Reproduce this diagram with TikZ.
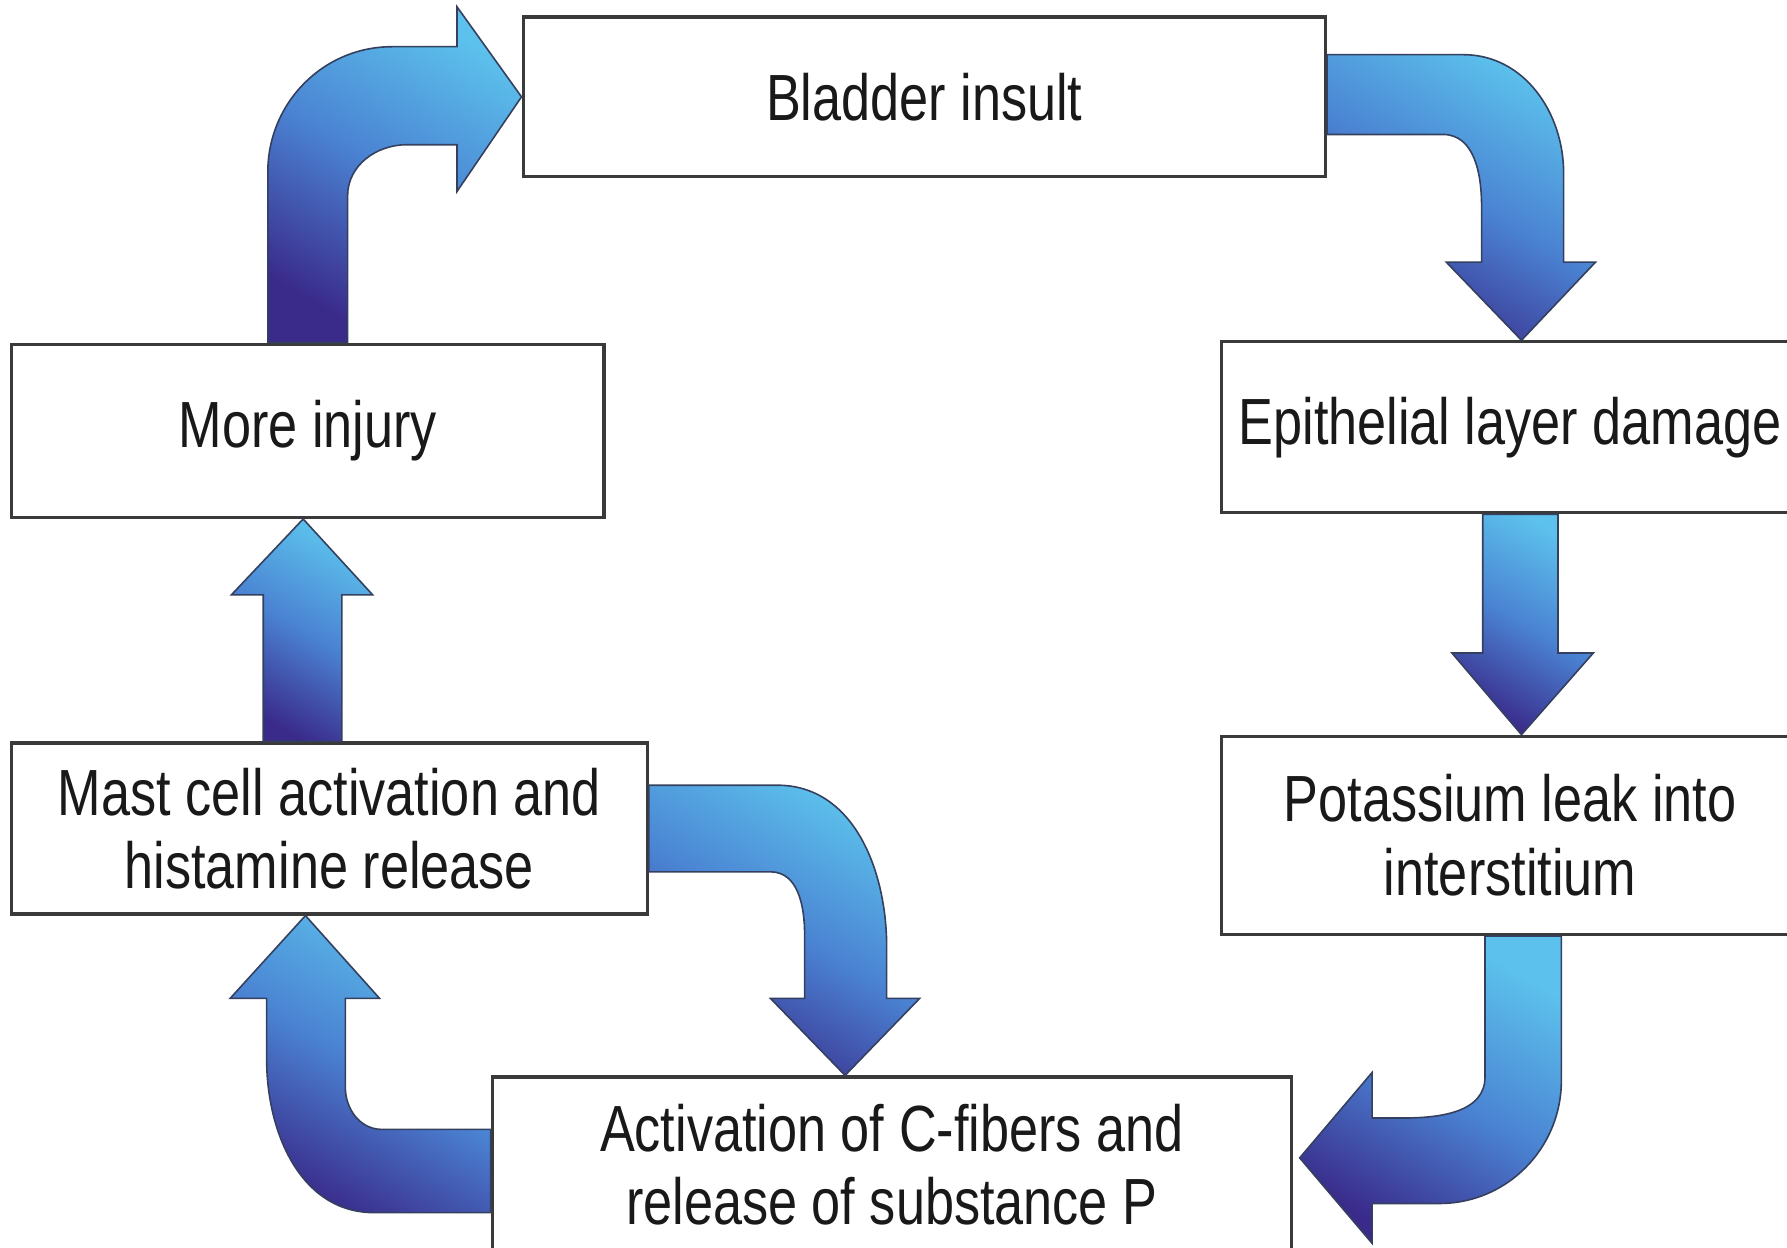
\documentclass[tikz,border=0pt]{standalone}
\usepackage{fontspec}
\setmainfont{Liberation Sans}[FakeStretch=0.80]
\usepackage{tikz}
\usetikzlibrary{positioning, calc}
\definecolor{arrowlight}{HTML}{5CC1EC}
\definecolor{arrowmid}{HTML}{4A82D2}
\definecolor{arrowdark}{HTML}{3A2A8A}
\definecolor{arrowedge}{HTML}{34405E}
\definecolor{boxline}{HTML}{3A3A3A}

\tikzset{
  stage/.style={draw=boxline, line width=0.8pt, fill=white, align=center, inner sep=0pt,
    text=black!90, font=\fontsize{16.3}{18.4}\selectfont},
  flowarrow/.style={draw=arrowedge, line width=0.4pt, top color=arrowlight,
    bottom color=arrowdark, middle color=arrowmid, shading angle=-30},
}

\begin{document}
\begin{tikzpicture}
    \useasboundingbox (0,0) rectangle (15.68,10.95);
    % Cajas del ciclo
    \node[stage, minimum width=7.04cm, minimum height=1.40cm] (bladder) at (8.11,10.10) {Bladder insult};
    \node[stage, minimum width=5.06cm, minimum height=1.50cm] (epith) at (13.25,7.20) {Epithelial layer damage};
    \node[stage, minimum width=5.06cm, minimum height=1.74cm] (potas) at (13.25,3.62) {Potassium leak into\\interstitium};
    \node[stage, minimum width=7.01cm, minimum height=1.54cm] (activ) at (7.825,0.73) {Activation of C-fibers and\\release of substance P};
    \node[stage, minimum width=5.58cm, minimum height=1.50cm] (mast) at (2.89,3.68) {Mast cell activation and\\histamine release};
    \node[stage, minimum width=5.20cm, minimum height=1.52cm] (more) at (2.70,7.17) {More injury};

    % Flechas curvas y rectas
    \path[flowarrow] ([xshift=-3.5mm]more.north) -- (2.35,9.44) to[out=90,in=180] (3.44,10.54)
        -- (4.01,10.54) -- (4.01,10.89) -- (bladder.west) -- (4.01,9.27) -- (4.01,9.68)
        -- (3.57,9.68) to[out=180,in=90] (3.05,9.23) -- ([xshift=3.5mm]more.north) -- cycle;
    \path[flowarrow] ([yshift=3.7mm]bladder.east) -- (12.84,10.47) to[out=0,in=90] (13.72,9.43)
        -- (13.72,8.65) -- (14.00,8.65) -- ([xshift=1mm]epith.north) -- (12.69,8.65) -- (13.00,8.65)
        -- (13.00,9.14) to[out=90,in=0] (12.66,9.77) -- ([yshift=-3.3mm]bladder.east) -- cycle;
    \path[flowarrow] ([xshift=-2.4mm]epith.south) -- (13.01,5.22) -- (12.74,5.22)
        -- ([xshift=1mm]potas.north) -- (13.98,5.22) -- (13.67,5.22) -- ([xshift=4.2mm]epith.south) -- cycle;
    \path[flowarrow] ([xshift=4.5mm]potas.south) -- (13.70,1.47) to[out=-90,in=0] (12.63,0.39)
        -- (12.04,0.39) -- (12.04,0.04) -- ([shift={(0.6mm,0.6mm)}]activ.east) -- (12.04,1.54) -- (12.04,1.14)
        -- (12.31,1.14) to[out=0,in=-90] (13.03,1.50) -- ([xshift=-2.2mm]potas.south) -- cycle;
    \path[flowarrow] ([yshift=-4.2mm]activ.west) -- (3.28,0.31) to[out=180,in=-90] (2.34,1.65)
        -- (2.34,2.19) -- (2.02,2.19) -- ([xshift=-2.1mm]mast.south) -- (3.33,2.19) -- (3.03,2.19)
        -- (3.03,1.41) to[out=-90,in=180] (3.35,1.04) -- ([yshift=3.1mm]activ.west) -- cycle;
    \path[flowarrow] ([yshift=3.8mm]mast.east) -- (6.82,4.06) to[out=0,in=90] (7.78,2.64)
        -- (7.78,2.19) -- (8.07,2.19) -- ([xshift=-4.1mm]activ.north) -- (6.76,2.19) -- (7.06,2.19)
        -- (7.06,2.75) to[out=90,in=0] (6.76,3.30) -- ([yshift=-3.8mm]mast.east) -- cycle;
    \path[flowarrow] ([xshift=-5.8mm]mast.north) -- (2.31,5.73) -- (2.03,5.73)
        -- ([xshift=-0.4mm]more.south) -- (3.27,5.73) -- (3.00,5.73) -- ([xshift=1.1mm]mast.north) -- cycle;
\end{tikzpicture}
\end{document}
